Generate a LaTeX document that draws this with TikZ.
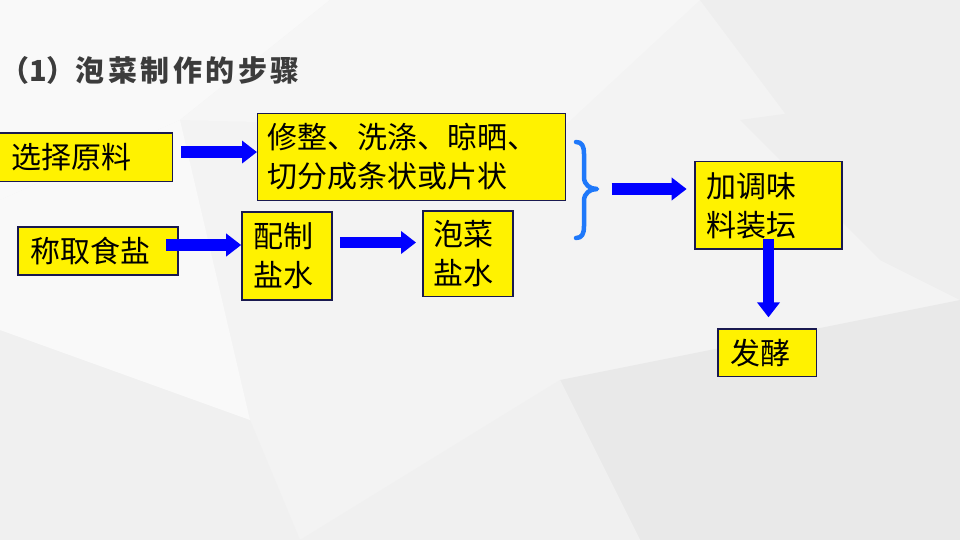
\documentclass[tikz,border=0pt]{standalone}
\usepackage{fontspec}
\usetikzlibrary{arrows.meta,calc}
\newfontfamily\cjk{Noto Sans CJK SC}
\newfontfamily\titlecjk{Noto Sans CJK SC}
\newfontfamily\titlespaced[LetterSpace=12]{Noto Sans CJK SC}
\definecolor{boxline}{RGB}{25,25,80}
\definecolor{arrowblue}{RGB}{0,0,255}
\definecolor{braceblue}{RGB}{30,120,250}
\definecolor{titlegray}{RGB}{60,60,60}
\definecolor{bgbase}{RGB}{243,243,243}
\definecolor{bgA}{RGB}{249,249,249}
\definecolor{bgB}{RGB}{246,246,246}
\definecolor{bgC}{RGB}{238,238,238}
\definecolor{bgD}{RGB}{233,233,233}
\definecolor{bgE}{RGB}{240,240,240}
\begin{document}
\begin{tikzpicture}[x=1pt,y=1pt,
  box/.style={draw=boxline, fill=yellow, line width=1.3pt, inner ysep=0pt,
    align=left, font=\cjk\fontsize{30}{39}\selectfont, anchor=center},
  bigarrow/.style={draw=arrowblue, line width=11.5pt,
    -{Triangle[length=15pt,width=22pt]}},
  bracestyle/.style={draw=braceblue, line width=4.5pt, line cap=round, line join=round}
]
% background
\useasboundingbox (0,0) rectangle (960,-540);
\fill[bgbase] (0,0) rectangle (960,-540);
\fill[bgA] (0,0) -- (330,0) -- (180,-120) -- (0,-200) -- cycle;
\fill[bgB] (330,0) -- (700,0) -- (560,-130) -- (180,-120) -- cycle;
\fill[bgC] (700,0) -- (960,0) -- (960,-90) -- (820,-160) -- cycle;
\fill[bgC] (740,-120) -- (960,-90) -- (960,-300) -- (880,-260) -- cycle;
\fill[bgD] (560,-380) -- (960,-300) -- (960,-540) -- (640,-540) -- cycle;
\fill[bgE] (300,-540) -- (560,-380) -- (640,-540) -- cycle;
\fill[bgE] (0,-330) -- (250,-420) -- (300,-540) -- (0,-540) -- cycle;
\fill[bgA] (0,-200) -- (180,-120) -- (250,-420) -- (0,-330) -- cycle;

% title
\node[anchor=base west, inner sep=0pt, text=titlegray,
  font=\bfseries\fontsize{29}{34}\selectfont] (title) at (0,-82)
  {{\titlecjk\bfseries （1）}{\titlespaced\bfseries 泡菜制作的步骤}};

% boxes
\node[box, text width=148pt, inner xsep=13pt, minimum height=48.7pt] (sel) at (85.35,-157.35) {选择原料};
\node[box, text width=288pt, inner xsep=10pt, minimum height=87.4pt] (xiu) at (411.65,-157) {修整、洗涤、晾晒、\\切分成条状或片状};
\node[box, text width=136pt, inner xsep=12pt, minimum height=48pt] (cheng) at (98,-251) {称取食盐};
\node[box, text width=66pt, inner xsep=12pt, minimum height=88pt] (pei) at (286.85,-256) {配制\\盐水};
\node[box, text width=70pt, inner xsep=10pt, minimum height=85.7pt] (pao) at (468,-253.85) {泡菜\\盐水};
\node[box, text width=125pt, inner xsep=11pt, minimum height=87.3pt] (jia) at (768.5,-205.35) {加调味\\料装坛};
\node[box, text width=74.7pt, inner xsep=12pt, minimum height=47.7pt] (fa) at (767.35,-352.85) {发酵};

% brace
\draw[bracestyle] (576,-142) .. controls (582,-142) and (584,-146) .. (584,-154)
  -- (584,-177) .. controls (584,-185) and (590,-189) .. (597,-189)
  .. controls (590,-189) and (584,-193) .. (584,-201)
  -- (584,-226) .. controls (584,-234) and (582,-238) .. (576,-238);
\coordinate (bt) at (597,-189);

% arrows
\draw[bigarrow] ($(sel.east)+(8,5.3)$) -- ($(sel.east -| xiu.west)+(0,5.3)$);
\draw[bigarrow] ($(cheng.east)+(-12.3,6)$) -- ($(cheng.east -| pei.west)+(0,6)$);
\draw[bigarrow] ($(pei.east)+(7.3,13.5)$) -- ($(pei.east -| pao.west)+(-6.3,13.5)$);
\draw[bigarrow] ($(bt)+(14.7,0)$) -- ($(bt -| jia.west)+(-7.7,0)$);
\draw[bigarrow] ($(jia.south)+(0,11)$) -- ($(jia.south |- fa.north)+(0,11)$);
\end{tikzpicture}
\end{document}
